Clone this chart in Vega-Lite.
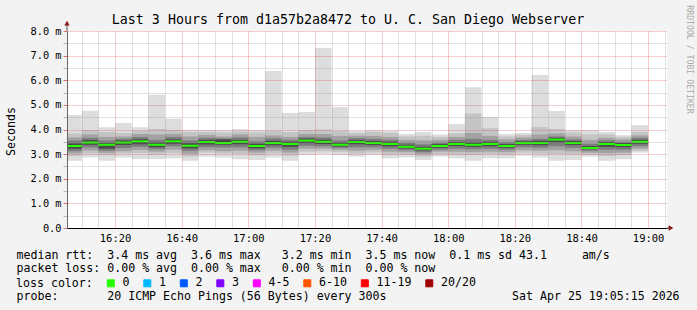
{
  "$schema": "https://vega.github.io/schema/vega-lite/v6.json",
  "width": 600,
  "height": 197,
  "autosize": {"type": "none"},
  "padding": {"left": 67, "top": 31, "right": 30, "bottom": 82},
  "background": "#f3f3f3",
  "title": {
    "text": "Last 3 Hours from d1a57b2a8472 to U. C. San Diego Webserver",
    "frame": "group", "anchor": "middle", "dx": -19, "offset": -32.5, "baseline": "alphabetic",
    "font": "DejaVu Sans Mono", "fontSize": 13.3, "fontWeight": "normal", "color": "#000000"
  },
  "config": {"view": {"fill": "#ffffff", "stroke": null}, "font": "DejaVu Sans Mono"},
  "datasets": {
    "rtt": [
      {"t":"2026-04-25T16:05:00","t2":"2026-04-25T16:10:00","mn":2.73,"a2":2.92,"a3":3.03,"a4":3.12,"a5":3.22,"med":3.33,"b5":3.43,"b4":3.55,"b3":3.68,"b2":3.84,"mx":4.59,"loss":"0"},
      {"t":"2026-04-25T16:10:00","t2":"2026-04-25T16:15:00","mn":2.87,"a2":3.02,"a3":3.15,"a4":3.27,"a5":3.38,"med":3.47,"b5":3.57,"b4":3.66,"b3":3.80,"b2":3.98,"mx":4.76,"loss":"0"},
      {"t":"2026-04-25T16:15:00","t2":"2026-04-25T16:20:00","mn":2.73,"a2":2.95,"a3":3.05,"a4":3.14,"a5":3.22,"med":3.38,"b5":3.45,"b4":3.55,"b3":3.70,"b2":3.90,"mx":4.09,"loss":"0"},
      {"t":"2026-04-25T16:20:00","t2":"2026-04-25T16:25:00","mn":2.86,"a2":3.03,"a3":3.12,"a4":3.25,"a5":3.37,"med":3.47,"b5":3.55,"b4":3.62,"b3":3.72,"b2":3.86,"mx":4.26,"loss":"0"},
      {"t":"2026-04-25T16:25:00","t2":"2026-04-25T16:30:00","mn":2.80,"a2":3.05,"a3":3.17,"a4":3.30,"a5":3.40,"med":3.52,"b5":3.60,"b4":3.70,"b3":3.82,"b2":3.95,"mx":4.09,"loss":"0"},
      {"t":"2026-04-25T16:30:00","t2":"2026-04-25T16:35:00","mn":2.80,"a2":2.98,"a3":3.10,"a4":3.20,"a5":3.28,"med":3.38,"b5":3.47,"b4":3.58,"b3":3.80,"b2":4.02,"mx":5.41,"loss":"0"},
      {"t":"2026-04-25T16:35:00","t2":"2026-04-25T16:40:00","mn":2.83,"a2":3.04,"a3":3.18,"a4":3.32,"a5":3.42,"med":3.52,"b5":3.60,"b4":3.70,"b3":3.82,"b2":3.98,"mx":4.44,"loss":"0"},
      {"t":"2026-04-25T16:40:00","t2":"2026-04-25T16:45:00","mn":2.73,"a2":2.90,"a3":3.02,"a4":3.14,"a5":3.24,"med":3.34,"b5":3.44,"b4":3.55,"b3":3.72,"b2":3.90,"mx":3.99,"loss":"0"},
      {"t":"2026-04-25T16:45:00","t2":"2026-04-25T16:50:00","mn":2.90,"a2":3.06,"a3":3.16,"a4":3.28,"a5":3.39,"med":3.49,"b5":3.58,"b4":3.66,"b3":3.78,"b2":3.90,"mx":3.98,"loss":"0"},
      {"t":"2026-04-25T16:50:00","t2":"2026-04-25T16:55:00","mn":2.86,"a2":3.02,"a3":3.12,"a4":3.27,"a5":3.38,"med":3.45,"b5":3.60,"b4":3.64,"b3":3.72,"b2":3.88,"mx":3.97,"loss":"0"},
      {"t":"2026-04-25T16:55:00","t2":"2026-04-25T17:00:00","mn":2.79,"a2":3.00,"a3":3.14,"a4":3.28,"a5":3.40,"med":3.50,"b5":3.58,"b4":3.68,"b3":3.80,"b2":3.92,"mx":4.01,"loss":"0"},
      {"t":"2026-04-25T17:00:00","t2":"2026-04-25T17:05:00","mn":2.76,"a2":2.95,"a3":3.06,"a4":3.16,"a5":3.24,"med":3.33,"b5":3.42,"b4":3.52,"b3":3.70,"b2":3.88,"mx":3.98,"loss":"0"},
      {"t":"2026-04-25T17:05:00","t2":"2026-04-25T17:10:00","mn":2.86,"a2":3.03,"a3":3.14,"a4":3.26,"a5":3.36,"med":3.45,"b5":3.54,"b4":3.64,"b3":3.76,"b2":3.95,"mx":6.38,"loss":"0"},
      {"t":"2026-04-25T17:10:00","t2":"2026-04-25T17:15:00","mn":2.73,"a2":2.94,"a3":3.06,"a4":3.18,"a5":3.30,"med":3.41,"b5":3.50,"b4":3.58,"b3":3.70,"b2":3.90,"mx":4.67,"loss":"0"},
      {"t":"2026-04-25T17:15:00","t2":"2026-04-25T17:20:00","mn":2.96,"a2":3.10,"a3":3.22,"a4":3.34,"a5":3.45,"med":3.55,"b5":3.63,"b4":3.70,"b3":3.82,"b2":3.98,"mx":4.71,"loss":"0"},
      {"t":"2026-04-25T17:20:00","t2":"2026-04-25T17:25:00","mn":3.00,"a2":3.12,"a3":3.22,"a4":3.32,"a5":3.41,"med":3.50,"b5":3.58,"b4":3.68,"b3":3.82,"b2":4.00,"mx":7.31,"loss":"0"},
      {"t":"2026-04-25T17:25:00","t2":"2026-04-25T17:30:00","mn":2.96,"a2":3.08,"a3":3.17,"a4":3.25,"a5":3.31,"med":3.38,"b5":3.46,"b4":3.55,"b3":3.74,"b2":3.94,"mx":4.91,"loss":"0"},
      {"t":"2026-04-25T17:30:00","t2":"2026-04-25T17:35:00","mn":2.90,"a2":3.02,"a3":3.14,"a4":3.28,"a5":3.40,"med":3.49,"b5":3.57,"b4":3.65,"b3":3.75,"b2":3.86,"mx":3.95,"loss":"0"},
      {"t":"2026-04-25T17:35:00","t2":"2026-04-25T17:40:00","mn":2.96,"a2":3.07,"a3":3.17,"a4":3.28,"a5":3.37,"med":3.45,"b5":3.53,"b4":3.62,"b3":3.74,"b2":3.90,"mx":3.98,"loss":"0"},
      {"t":"2026-04-25T17:40:00","t2":"2026-04-25T17:45:00","mn":2.83,"a2":2.98,"a3":3.10,"a4":3.22,"a5":3.32,"med":3.41,"b5":3.50,"b4":3.58,"b3":3.70,"b2":3.86,"mx":3.95,"loss":"0"},
      {"t":"2026-04-25T17:45:00","t2":"2026-04-25T17:50:00","mn":2.87,"a2":2.98,"a3":3.08,"a4":3.16,"a5":3.23,"med":3.30,"b5":3.38,"b4":3.46,"b3":3.58,"b2":3.72,"mx":3.82,"loss":"0"},
      {"t":"2026-04-25T17:50:00","t2":"2026-04-25T17:55:00","mn":2.76,"a2":2.90,"a3":3.00,"a4":3.08,"a5":3.15,"med":3.22,"b5":3.30,"b4":3.40,"b3":3.56,"b2":3.75,"mx":3.90,"loss":"0"},
      {"t":"2026-04-25T17:55:00","t2":"2026-04-25T18:00:00","mn":2.90,"a2":3.00,"a3":3.10,"a4":3.18,"a5":3.26,"med":3.33,"b5":3.41,"b4":3.47,"b3":3.58,"b2":3.70,"mx":3.80,"loss":"0"},
      {"t":"2026-04-25T18:00:00","t2":"2026-04-25T18:05:00","mn":2.83,"a2":2.98,"a3":3.10,"a4":3.22,"a5":3.33,"med":3.41,"b5":3.49,"b4":3.58,"b3":3.70,"b2":3.85,"mx":4.22,"loss":"0"},
      {"t":"2026-04-25T18:05:00","t2":"2026-04-25T18:10:00","mn":2.73,"a2":2.96,"a3":3.08,"a4":3.20,"a5":3.30,"med":3.38,"b5":3.47,"b4":3.62,"b3":3.86,"b2":4.65,"mx":5.72,"loss":"0"},
      {"t":"2026-04-25T18:10:00","t2":"2026-04-25T18:15:00","mn":2.83,"a2":3.00,"a3":3.10,"a4":3.22,"a5":3.32,"med":3.41,"b5":3.50,"b4":3.58,"b3":3.74,"b2":4.05,"mx":4.51,"loss":"0"},
      {"t":"2026-04-25T18:15:00","t2":"2026-04-25T18:20:00","mn":2.83,"a2":2.98,"a3":3.08,"a4":3.18,"a5":3.26,"med":3.33,"b5":3.41,"b4":3.48,"b3":3.60,"b2":3.72,"mx":3.82,"loss":"0"},
      {"t":"2026-04-25T18:20:00","t2":"2026-04-25T18:25:00","mn":2.94,"a2":3.06,"a3":3.16,"a4":3.28,"a5":3.38,"med":3.45,"b5":3.52,"b4":3.58,"b3":3.68,"b2":3.78,"mx":3.86,"loss":"0"},
      {"t":"2026-04-25T18:25:00","t2":"2026-04-25T18:30:00","mn":2.86,"a2":3.02,"a3":3.14,"a4":3.26,"a5":3.36,"med":3.45,"b5":3.54,"b4":3.62,"b3":3.80,"b2":4.10,"mx":6.21,"loss":"0"},
      {"t":"2026-04-25T18:30:00","t2":"2026-04-25T18:35:00","mn":2.73,"a2":3.00,"a3":3.16,"a4":3.32,"a5":3.48,"med":3.59,"b5":3.66,"b4":3.72,"b3":3.84,"b2":4.02,"mx":4.75,"loss":"0"},
      {"t":"2026-04-25T18:35:00","t2":"2026-04-25T18:40:00","mn":2.76,"a2":3.00,"a3":3.12,"a4":3.26,"a5":3.37,"med":3.45,"b5":3.53,"b4":3.60,"b3":3.72,"b2":3.88,"mx":3.98,"loss":"0"},
      {"t":"2026-04-25T18:40:00","t2":"2026-04-25T18:45:00","mn":2.90,"a2":2.98,"a3":3.06,"a4":3.14,"a5":3.20,"med":3.25,"b5":3.33,"b4":3.42,"b3":3.58,"b2":3.80,"mx":3.98,"loss":"0"},
      {"t":"2026-04-25T18:45:00","t2":"2026-04-25T18:50:00","mn":2.73,"a2":2.92,"a3":3.04,"a4":3.18,"a5":3.30,"med":3.41,"b5":3.49,"b4":3.56,"b3":3.66,"b2":3.80,"mx":3.90,"loss":"0"},
      {"t":"2026-04-25T18:50:00","t2":"2026-04-25T18:55:00","mn":2.79,"a2":2.96,"a3":3.06,"a4":3.18,"a5":3.28,"med":3.37,"b5":3.45,"b4":3.50,"b3":3.60,"b2":3.70,"mx":3.77,"loss":"0"},
      {"t":"2026-04-25T18:55:00","t2":"2026-04-25T19:00:00","mn":3.06,"a2":3.14,"a3":3.22,"a4":3.32,"a5":3.42,"med":3.50,"b5":3.58,"b4":3.66,"b3":3.76,"b2":3.90,"mx":4.18,"loss":"0"}
    ],
    "arrows": [
      {"kind": "y", "t": "2026-04-25T16:05:35", "v": 8.32},
      {"kind": "x", "t": "2026-04-25T19:06:52", "v": 0}
    ],
    "ext": [
      {"t": "2026-04-25T16:05:35", "t2": "2026-04-25T16:05:35", "v": 8, "v2": 8.28},
      {"t": "2026-04-25T19:05:40", "t2": "2026-04-25T19:06:40", "v": 0, "v2": 0}
    ]
  },
  "layer": [
    {
      "data": {"name": "rtt"},
      "mark": {"type": "rect", "color": "#dddddd", "clip": true},
      "encoding": {
        "x": {
          "field": "t", "type": "temporal",
          "scale": {"domain": [{"year": 2026, "month": 4, "date": 25, "hours": 16, "minutes": 5, "seconds": 35}, {"year": 2026, "month": 4, "date": 25, "hours": 19, "minutes": 5, "seconds": 40}], "nice": false},
          "axis": {
            "orient": "bottom",
            "title": [
              "median rtt:\u00a0\u00a03.4 ms avg\u00a0\u00a03.6 ms max\u00a0\u00a0\u00a03.2 ms min\u00a0\u00a03.5 ms now\u00a0\u00a00.1 ms sd 43.1\u00a0\u00a0\u00a0\u00a0\u00a0am/s",
              "packet loss: 0.00 % avg\u00a0\u00a00.00 % max\u00a0\u00a0\u00a00.00 % min\u00a0\u00a00.00 % now"
            ],
            "titleX": -51, "titleY": 21.3, "titleAlign": "left", "titleAnchor": "start", "titleBaseline": "top",
            "titleFont": "DejaVu Sans Mono", "titleFontSize": 11.6, "titleFontWeight": "normal", "titleColor": "#000000", "titleLineHeight": 13.7,
            "values": [
              {"year": 2026, "month": 4, "date": 25, "hours": 16, "minutes": 20},
              {"year": 2026, "month": 4, "date": 25, "hours": 16, "minutes": 40},
              {"year": 2026, "month": 4, "date": 25, "hours": 17, "minutes": 0},
              {"year": 2026, "month": 4, "date": 25, "hours": 17, "minutes": 20},
              {"year": 2026, "month": 4, "date": 25, "hours": 17, "minutes": 40},
              {"year": 2026, "month": 4, "date": 25, "hours": 18, "minutes": 0},
              {"year": 2026, "month": 4, "date": 25, "hours": 18, "minutes": 20},
              {"year": 2026, "month": 4, "date": 25, "hours": 18, "minutes": 40},
              {"year": 2026, "month": 4, "date": 25, "hours": 19, "minutes": 0}
            ],
            "format": "%H:%M",
            "labelFont": "DejaVu Sans Mono", "labelFontSize": 10.5, "labelColor": "#000000", "labelPadding": 5,
            "labelFlush": false, "labelOverlap": false, "ticks": false,
            "domainColor": "#000000", "domainWidth": 1,
            "grid": true, "gridColor": "rgba(222,79,79,0.55)", "gridDash": [1, 1], "zindex": 1
          }
        },
        "x2": {"field": "t2"},
        "y": {
          "field": "mn", "type": "quantitative",
          "scale": {"domain": [0, 8], "nice": false},
          "axis": {
            "title": "Seconds", "titleX": -56, "titleY": 100, "titleAngle": 270, "titleAlign": "center", "titleBaseline": "middle",
            "titleFont": "DejaVu Sans Mono", "titleFontSize": 11.6, "titleFontWeight": "normal", "titleColor": "#000000",
            "values": [0, 0.5, 1, 1.5, 2, 2.5, 3, 3.5, 4, 4.5, 5, 5.5, 6, 6.5, 7, 7.5, 8],
            "labelExpr": "datum.value % 1 === 0 ? (datum.value === 0 ? '0.0\u00a0\u00a0' : format(datum.value, '.1f') + ' m') : ''",
            "labelFont": "DejaVu Sans Mono", "labelFontSize": 10.3, "labelColor": "#000000", "labelPadding": 2,
            "labelFlush": false, "labelOverlap": false,
            "tickSize": 4,
            "tickColor": {"condition": {"test": "datum.value % 1 === 0", "value": "rgba(222,79,79,0.8)"}, "value": "rgba(140,140,140,0.6)"},
            "domainColor": "#666666", "domainWidth": 1,
            "grid": true,
            "gridColor": {"condition": {"test": "datum.value % 1 === 0", "value": "rgba(222,79,79,0.55)"}, "value": "rgba(140,140,140,0.5)"},
            "gridDash": [1, 1], "zindex": 1
          }
        },
        "y2": {"field": "mx"}
      }
    },
    {
      "data": {"name": "rtt"},
      "mark": {"type": "rect", "color": "#c4c4c4", "clip": true},
      "encoding": {
        "x": {
          "field": "t", "type": "temporal",
          "scale": {"domain": [{"year": 2026, "month": 4, "date": 25, "hours": 16, "minutes": 5, "seconds": 35}, {"year": 2026, "month": 4, "date": 25, "hours": 19, "minutes": 5, "seconds": 40}], "nice": false},
          "axis": {
            "orient": "bottom", "labels": false, "ticks": false, "domain": false,
            "title": "probe:\u00a0\u00a0\u00a0\u00a0\u00a0\u00a0\u00a020 ICMP Echo Pings (56 Bytes) every 300s\u00a0\u00a0\u00a0\u00a0\u00a0\u00a0\u00a0\u00a0\u00a0\u00a0\u00a0\u00a0\u00a0\u00a0\u00a0\u00a0\u00a0\u00a0Sat Apr 25 19:05:15 2026",
            "titleX": -51, "titleY": 62.4, "titleAlign": "left", "titleAnchor": "start", "titleBaseline": "top",
            "titleFont": "DejaVu Sans Mono", "titleFontSize": 11.6, "titleFontWeight": "normal", "titleColor": "#000000",
            "values": [
              {"year": 2026, "month": 4, "date": 25, "hours": 16, "minutes": 10},
              {"year": 2026, "month": 4, "date": 25, "hours": 16, "minutes": 15},
              {"year": 2026, "month": 4, "date": 25, "hours": 16, "minutes": 25},
              {"year": 2026, "month": 4, "date": 25, "hours": 16, "minutes": 30},
              {"year": 2026, "month": 4, "date": 25, "hours": 16, "minutes": 35},
              {"year": 2026, "month": 4, "date": 25, "hours": 16, "minutes": 45},
              {"year": 2026, "month": 4, "date": 25, "hours": 16, "minutes": 50},
              {"year": 2026, "month": 4, "date": 25, "hours": 16, "minutes": 55},
              {"year": 2026, "month": 4, "date": 25, "hours": 17, "minutes": 5},
              {"year": 2026, "month": 4, "date": 25, "hours": 17, "minutes": 10},
              {"year": 2026, "month": 4, "date": 25, "hours": 17, "minutes": 15},
              {"year": 2026, "month": 4, "date": 25, "hours": 17, "minutes": 25},
              {"year": 2026, "month": 4, "date": 25, "hours": 17, "minutes": 30},
              {"year": 2026, "month": 4, "date": 25, "hours": 17, "minutes": 35},
              {"year": 2026, "month": 4, "date": 25, "hours": 17, "minutes": 45},
              {"year": 2026, "month": 4, "date": 25, "hours": 17, "minutes": 50},
              {"year": 2026, "month": 4, "date": 25, "hours": 17, "minutes": 55},
              {"year": 2026, "month": 4, "date": 25, "hours": 18, "minutes": 5},
              {"year": 2026, "month": 4, "date": 25, "hours": 18, "minutes": 10},
              {"year": 2026, "month": 4, "date": 25, "hours": 18, "minutes": 15},
              {"year": 2026, "month": 4, "date": 25, "hours": 18, "minutes": 25},
              {"year": 2026, "month": 4, "date": 25, "hours": 18, "minutes": 30},
              {"year": 2026, "month": 4, "date": 25, "hours": 18, "minutes": 35},
              {"year": 2026, "month": 4, "date": 25, "hours": 18, "minutes": 45},
              {"year": 2026, "month": 4, "date": 25, "hours": 18, "minutes": 50},
              {"year": 2026, "month": 4, "date": 25, "hours": 18, "minutes": 55},
              {"year": 2026, "month": 4, "date": 25, "hours": 19, "minutes": 5}
            ],
            "grid": true, "gridColor": "rgba(140,140,140,0.5)", "gridDash": [1, 1], "zindex": 1
          }
        },
        "x2": {"field": "t2"},
        "y": {"field": "a2", "type": "quantitative", "scale": {"domain": [0, 8], "nice": false}, "axis": null},
        "y2": {"field": "b2"}
      }
    },
    {
      "data": {"name": "rtt"},
      "mark": {"type": "rect", "color": "#a2a2a2", "clip": true},
      "encoding": {
        "x": {"field": "t", "type": "temporal", "axis": null},
        "x2": {"field": "t2"},
        "y": {"field": "a3", "type": "quantitative", "scale": {"domain": [0, 8], "nice": false}, "axis": null},
        "y2": {"field": "b3"}
      }
    },
    {
      "data": {"name": "rtt"},
      "mark": {"type": "rect", "color": "#7c7c7c", "clip": true},
      "encoding": {
        "x": {"field": "t", "type": "temporal", "axis": null},
        "x2": {"field": "t2"},
        "y": {"field": "a4", "type": "quantitative", "scale": {"domain": [0, 8], "nice": false}, "axis": null},
        "y2": {"field": "b4"}
      }
    },
    {
      "data": {"name": "rtt"},
      "mark": {"type": "rect", "color": "#4a4a4a", "clip": true},
      "encoding": {
        "x": {"field": "t", "type": "temporal", "axis": null},
        "x2": {"field": "t2"},
        "y": {"field": "a5", "type": "quantitative", "scale": {"domain": [0, 8], "nice": false}, "axis": null},
        "y2": {"field": "b5"}
      }
    },
    {
      "data": {"name": "rtt"},
      "mark": {"type": "rule", "strokeWidth": 2, "clip": true},
      "encoding": {
        "x": {"field": "t", "type": "temporal", "axis": null},
        "x2": {"field": "t2"},
        "y": {"field": "med", "type": "quantitative", "scale": {"domain": [0, 8], "nice": false}, "axis": null},
        "color": {
          "field": "loss", "type": "nominal",
          "scale": {"domain": ["0", "1", "2", "3", "4-5", "6-10", "11-19", "20/20"], "range": ["#26ff00", "#00b8ff", "#0059ff", "#7e00ff", "#ff00ff", "#ff5500", "#ff0000", "#a10000"]},
          "legend": {
            "orient": "none", "legendX": -51, "legendY": 246.5, "direction": "horizontal", "columns": 8,
            "title": "loss color:", "titleOrient": "left", "titleAnchor": "middle", "titleBaseline": "middle", "titlePadding": 12,
            "titleFont": "DejaVu Sans Mono", "titleFontSize": 11.6, "titleFontWeight": "normal", "titleColor": "#000000",
            "symbolType": "square", "symbolSize": 49, "symbolStrokeWidth": 1, "symbolStrokeColor": "#000000",
            "labelFont": "DejaVu Sans Mono", "labelFontSize": 11.6, "labelColor": "#000000", "labelOffset": 6,
            "columnPadding": 11.5, "padding": 0, "labelLimit": 100, "gridAlign": "none",
            "encode": {"symbols": {"update": {"fill": {"scale": "color", "field": "value"}, "stroke": {"value": "#000000"}, "strokeWidth": {"value": 1}, "opacity": {"value": 1}}}}
          }
        }
      }
    },
    {
      "data": {"name": "ext"},
      "mark": {"type": "rule", "color": "#555555", "strokeWidth": 1},
      "encoding": {
        "x": {"field": "t", "type": "temporal", "axis": null},
        "x2": {"field": "t2"},
        "y": {"field": "v", "type": "quantitative", "scale": {"domain": [0, 8], "nice": false}, "axis": null},
        "y2": {"field": "v2"}
      }
    },
    {
      "data": {"name": "arrows"},
      "mark": {"type": "point", "filled": true, "color": "#8b1a1a", "size": 30, "opacity": 1},
      "encoding": {
        "x": {"field": "t", "type": "temporal", "axis": null},
        "y": {
          "field": "v", "type": "quantitative", "scale": {"domain": [0, 8], "nice": false},
          "axis": {
            "orient": "right", "title": "RRDTOOL / TOBI OETIKER", "titleAngle": 90, "titleX": 21, "titleY": 28,
            "titleAlign": "center", "titleBaseline": "middle", "titleFont": "DejaVu Sans Mono", "titleFontSize": 8.2,
            "titleFontWeight": "normal", "titleColor": "#aaaaaa", "labels": false, "ticks": false, "domain": false, "grid": false
          }
        },
        "shape": {"field": "kind", "type": "nominal", "scale": {"domain": ["y", "x"], "range": ["triangle-up", "triangle-right"]}, "legend": null}
      }
    }
  ],
  "resolve": {"axis": {"x": "independent", "y": "independent"}}
}
